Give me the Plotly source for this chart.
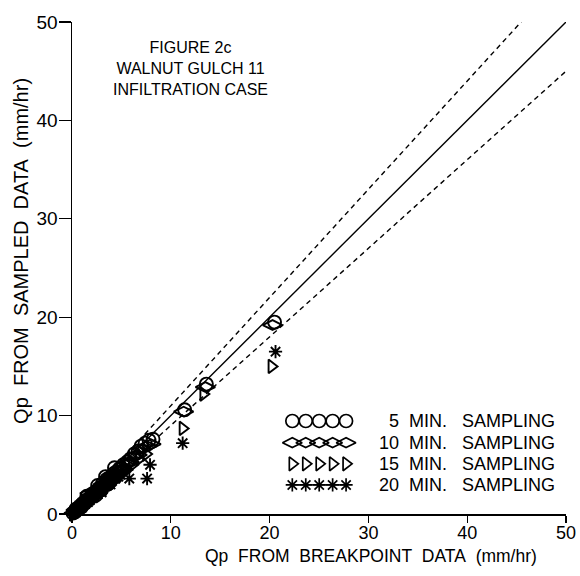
import plotly.graph_objects as go

# ---------------- data ----------------
tick_vals = [0, 10, 20, 30, 40, 50]
tick_text = ["0", "10", "20", "30", "40", "50"]

# 5 min sampling (circles): breakpoint Qp vs sampled Qp
bp_5 = [0.1, 0.3, 0.4, 0.6, 0.8, 0.9, 1.1, 1.3, 1.4, 1.5, 1.6, 1.8, 2.0, 2.1, 2.3,
        2.4, 2.5, 2.6, 2.7, 2.9, 3.0, 3.1, 3.3, 3.4, 3.5, 3.6, 3.7, 3.8, 4.0, 4.2,
        4.3, 4.4, 4.5, 4.8, 5.2, 5.6, 5.9, 6.3, 6.7, 7.0, 7.4, 7.8, 8.2, 11.4, 13.6,
        20.5]
s_5 = [0.1, 0.2, 0.5, 0.5, 0.8, 0.7, 1.1, 1.1, 1.3, 1.8, 1.5, 1.6, 2.0, 1.8, 2.2,
       1.9, 2.3, 2.9, 2.6, 2.7, 2.5, 3.1, 3.0, 3.8, 3.5, 3.3, 3.1, 3.7, 3.8, 4.1,
       4.7, 3.8, 4.3, 4.6, 5.0, 5.3, 5.6, 6.1, 6.4, 6.9, 7.2, 7.5, 7.6, 10.6, 13.2,
       19.5]

# 10 min sampling (diamonds)
bp_10 = [0.2, 0.4, 0.5, 0.7, 0.9, 1.0, 1.2, 1.5, 1.7, 1.9, 2.2, 2.4, 2.6, 2.8, 3.0,
         3.2, 3.4, 3.7, 3.9, 4.1, 4.4, 4.7, 5.0, 5.4, 5.8, 6.2, 6.6, 7.1, 7.6, 8.0,
         11.3, 13.5, 20.3, 2.5, 3.3, 4.0, 4.6, 5.2, 1.8]
s_10 = [0.1, 0.4, 0.3, 0.6, 0.8, 0.9, 1.0, 1.4, 1.5, 1.8, 1.9, 2.3, 2.3, 2.6, 2.7,
        3.0, 3.1, 3.5, 3.6, 3.8, 4.0, 4.3, 4.5, 5.0, 5.3, 5.8, 6.0, 6.6, 6.9, 7.1,
        10.4, 12.9, 19.2, 2.0, 2.7, 3.4, 4.0, 4.5, 2.1]

# 15 min sampling (triangles)
bp_15 = [0.1, 0.3, 0.5, 0.7, 0.9, 1.1, 1.3, 1.5, 1.7, 2.0, 2.2, 2.4, 2.7, 2.9, 3.2,
         3.4, 3.7, 4.0, 4.3, 4.6, 5.0, 5.5, 6.1, 6.8, 7.5, 11.2, 13.3, 20.2,
         2.6, 3.5, 4.4, 5.3]
s_15 = [0.0, 0.2, 0.4, 0.5, 0.7, 0.9, 1.0, 1.3, 1.4, 1.7, 1.9, 2.0, 2.3, 2.4, 2.7,
        2.9, 3.1, 3.4, 3.6, 3.9, 4.2, 4.6, 5.0, 5.6, 6.1, 8.7, 12.2, 15.0,
        2.1, 2.8, 3.6, 4.3]

# 20 min sampling (stars)
bp_20 = [0.2, 0.4, 0.6, 0.9, 1.1, 1.3, 1.6, 1.8, 2.1, 2.3, 2.6, 2.8, 3.1, 3.4, 3.7,
         4.0, 4.4, 4.9, 5.8, 7.6, 7.9, 11.2, 20.6, 3.0, 3.9, 4.7]
s_20 = [0.1, 0.2, 0.4, 0.6, 0.8, 1.0, 1.2, 1.4, 1.6, 1.9, 2.0, 2.3, 2.5, 2.8, 3.0,
        3.3, 3.6, 4.0, 3.6, 3.6, 5.0, 7.2, 16.5, 2.2, 3.0, 3.8]

# reference lines: 1:1 and +/-10 %
ref_x = [0, 50]
ref_slopes = [1.0, 1.1, 0.9]

legend_numbers = ["5", "10", "15", "20"]
title_lines = ["FIGURE 2c", "WALNUT GULCH 11", "INFILTRATION CASE"]
x_title = "Qp FROM BREAKPOINT DATA (mm/hr)"
y_title = "Qp FROM SAMPLED DATA (mm/hr)"

# ---------------- style / layout constants ----------------
FONT = "Liberation Sans"
INK = "black"
NB = "\u00a0"

series = [
    (bp_5, s_5, "circle-open", 13),
    (bp_10, s_10, "diamond-wide-open", 14),
    (bp_15, s_15, "triangle-right-open", 12),
    (bp_20, s_20, "asterisk-open", 11),
]

fig = go.Figure()

# reference lines
for slope, dash in zip(ref_slopes, ["solid", "5px,4px", "5px,4px"]):
    fig.add_trace(go.Scatter(
        x=ref_x, y=[slope * v for v in ref_x], mode="lines",
        line=dict(color=INK, width=1.4, dash=dash), showlegend=False,
        hoverinfo="skip"))

# data series
for xs, ys, sym, size in series:
    fig.add_trace(go.Scatter(
        x=xs, y=ys, mode="markers", cliponaxis=False,
        marker=dict(symbol=sym, size=size, color=INK, line=dict(color=INK, width=1.9)),
        showlegend=False))

# legend drawn as rows of five glyphs plus text
leg_glyph_x = [22.3 + 1.36 * i for i in range(5)]
leg_row_y = [9.45, 7.25, 5.1, 2.95]
for (xs, ys, sym, size), ry, num in zip(series, leg_row_y, legend_numbers):
    fig.add_trace(go.Scatter(
        x=leg_glyph_x, y=[ry] * 5,
        mode="lines+markers" if sym.startswith("asterisk") else "markers",
        line=dict(color=INK, width=1.2),
        marker=dict(symbol=sym, size=size, color=INK, line=dict(color=INK, width=1.7)),
        showlegend=False, hoverinfo="skip"))
    fig.add_annotation(
        x=49.1, y=ry, xref="x", yref="y", xanchor="right", yanchor="middle",
        text=f"{num}{NB*2}MIN.{NB*3}SAMPLING", showarrow=False,
        font=dict(family=FONT, size=18, color=INK))

# title block
fig.add_annotation(
    x=12.0, y=45.3, xref="x", yref="y", xanchor="center", yanchor="middle",
    text="<br>".join(title_lines), showarrow=False, align="center",
    font=dict(family=FONT, size=16, color=INK))

# axis titles
fig.add_annotation(
    x=0.605, y=-0.086, xref="paper", yref="paper", xanchor="center", yanchor="middle",
    text=(NB * 2).join(x_title.split(" ")), showarrow=False,
    font=dict(family=FONT, size=17.5, color=INK))
fig.add_annotation(
    x=-0.103, y=0.535, xref="paper", yref="paper", xanchor="center", yanchor="middle",
    text=(NB * 2).join(y_title.split(" ")), showarrow=False, textangle=-90,
    font=dict(family=FONT, size=20, color=INK))

axis_common = dict(
    range=[0, 50], tickvals=tick_vals, ticktext=tick_text, automargin=False,
    showgrid=False, zeroline=False, showline=True, linecolor=INK, linewidth=1.5,
    ticks="outside", tickcolor=INK, tickwidth=1.3, fixedrange=True,
)

fig.update_layout(
    width=580, height=576, autosize=False,
    margin=dict(l=72, r=14, t=22, b=62, autoexpand=False),
    paper_bgcolor="white", plot_bgcolor="white",
    showlegend=False,
    xaxis=dict(**axis_common, ticklen=7, ticklabelstandoff=-5,
               tickfont=dict(family=FONT, size=18, color=INK)),
    yaxis=dict(**axis_common, ticklen=12, ticklabelstandoff=-3,
               tickfont=dict(family=FONT, size=19, color=INK)),
    font=dict(family=FONT, color=INK),
)

post = ("document.body.style.margin='0';document.body.style.padding='0';"
        "document.body.style.overflow='hidden';")

fig.write_html("out.html", post_script=post,
               config={"displayModeBar": False, "staticPlot": True})
